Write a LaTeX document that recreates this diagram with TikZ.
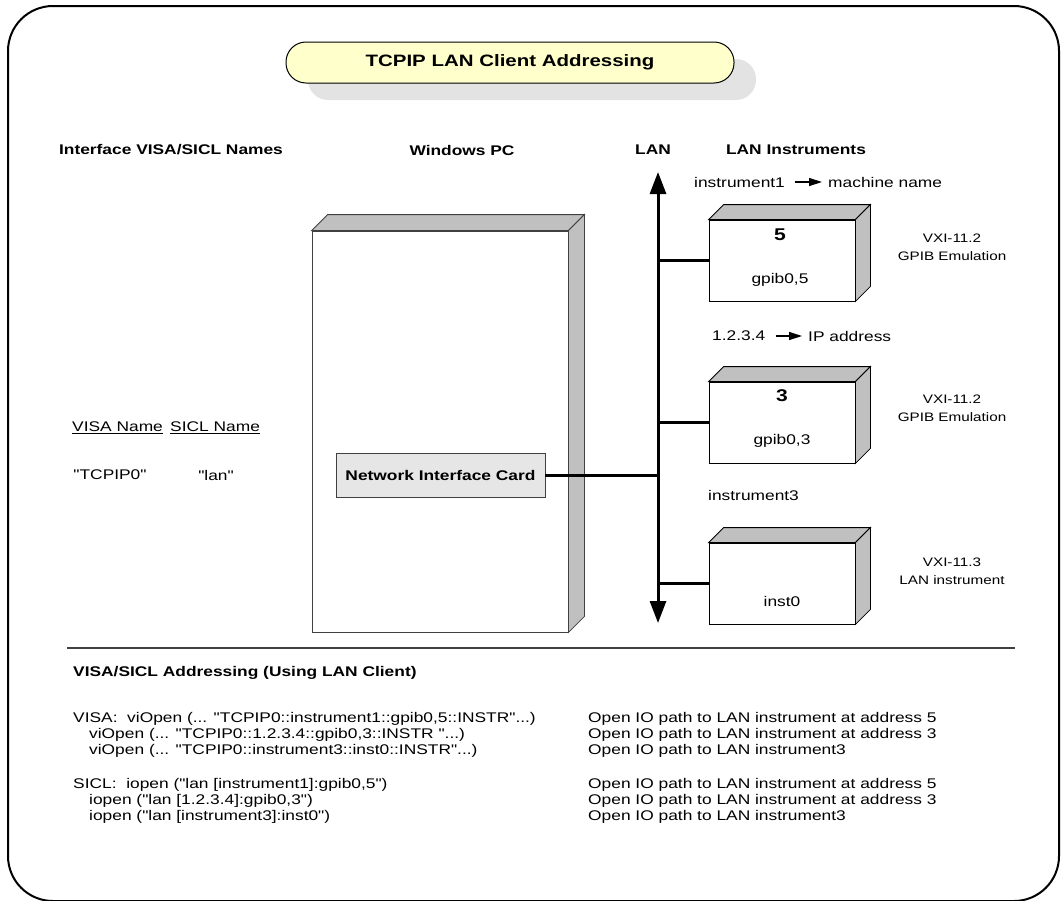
\documentclass[tikz,border=0pt]{standalone}
\usepackage{fontspec}
\setmainfont{Liberation Sans}[FakeStretch=1.24, Ligatures=TeXOff]
\usetikzlibrary{arrows.meta}
\definecolor{titlefill}{HTML}{FFFFCC}
\definecolor{titleshadow}{HTML}{E3E3E3}
\definecolor{face}{HTML}{C0C0C0}
\definecolor{nicfill}{HTML}{E6E6E6}
\definecolor{edge}{HTML}{404040}
\begin{document}
\begin{tikzpicture}[x=1pt,y=-1pt,
  every node/.style={inner sep=0pt, font=\fontsize{14}{16}\selectfont},
  hdr/.style={font=\fontsize{14}{16}\selectfont\bfseries},
  lbl/.style={anchor=west},
  note/.style={font=\fontsize{12.3}{18}\selectfont, align=center},
  frontface/.style={draw=black, line width=0.8pt, fill=white, minimum width=146pt, minimum height=81pt},
  sideface/.style={draw=black, line width=0.8pt, fill=face},
  numtxt/.style={font=\fontsize{17}{18}\selectfont\bfseries},
  wire/.style={line width=3pt},
  ptr/.style={-{Triangle[width=8pt,length=13pt]}, line width=1.3pt},
]
\useasboundingbox (0,0) rectangle (1062,900);
% outer frame
\draw[line width=2pt, rounded corners=45pt] (8,6) rectangle (1059,901);

% title with shadow
\fill[titleshadow, rounded corners=20pt] (308,59) rectangle (756,100);
\node[draw=black, line width=1pt, fill=titlefill, rounded corners=20pt,
      minimum width=448pt, minimum height=41pt,
      font=\fontsize{16.5}{18}\selectfont\bfseries] (title) at (510,62.5) {TCPIP LAN Client Addressing};

% headers
\node[hdr] (hIface) at (171,150) {Interface VISA/SICL Names};
\node[hdr] (hPC) at (462,150) {Windows PC};
\node[hdr] (hLAN) at (653,150) {LAN};
\node[hdr] (hInst) at (796,150) {LAN Instruments};

% PC box
\node[draw=edge, line width=0.8pt, fill=white, minimum width=256pt, minimum height=401pt] (pc) at (440,431.5) {};
\draw[draw=edge, line width=0.8pt, fill=face] (pc.north west) -- ++(16,-16) -- ([shift={(16,-16)}]pc.north east) -- (pc.north east) -- cycle;
\draw[draw=edge, line width=0.8pt, fill=face] (pc.north east) -- ++(16,-16) -- ([shift={(16,-16)}]pc.south east) -- (pc.south east) -- cycle;

% NIC
\node[draw=edge, line width=0.8pt, fill=nicfill, minimum width=209pt, minimum height=44pt,
      font=\fontsize{14}{16}\selectfont\bfseries] (nic) at (440.5,475) {Network Interface Card};

% left names
\node[lbl] (visaName) at (72,428) {\underline{VISA Name}};
\node[lbl] (siclName) at (170,428) {\underline{SICL Name}};
\node (visaRes) at (110,475) {"TCPIP0"};
\node (siclRes) at (216,475) {"lan"};

% LAN backbone
\coordinate (lanTop) at (658,172);
\coordinate (lanBot) at (658,623);
\draw[line width=3pt, {Triangle[width=16pt,length=22pt]}-{Triangle[width=16pt,length=22pt]}] (lanTop) -- (lanBot);
\draw[wire] (nic.east) -- (nic.east -| lanTop);

% instrument 1
\node (i1) [lbl] at (694,182) {instrument1};
\node (mn) [lbl] at (828,182) {machine name};
\draw[ptr] ([xshift=10pt]i1.east) -- ([xshift=-6pt]mn.west);
\node[frontface] (inst1) at (782,260.5) {};
\draw[sideface] (inst1.north west) -- ++(15,-15) -- ([shift={(15,-15)}]inst1.north east) -- (inst1.north east) -- cycle;
\draw[sideface] (inst1.north east) -- ++(15,-15) -- ([shift={(15,-15)}]inst1.south east) -- (inst1.south east) -- cycle;
\node[numtxt] (num1) at (780,235) {5};
\node (addr1) at (780,280) {gpib0,5};
\draw[wire] (inst1.west) -- (inst1.west -| lanTop);
\node[note] (std1) at (952,247) {VXI-11.2\\GPIB Emulation};

% instrument 2
\node (ip) [lbl] at (712,336) {1.2.3.4};
\node (ipa) [lbl] at (808,336) {IP address};
\draw[ptr] ([xshift=10pt]ip.east) -- ([xshift=-6pt]ipa.west);
\node[frontface] (inst2) at (782,422.5) {};
\draw[sideface] (inst2.north west) -- ++(15,-15) -- ([shift={(15,-15)}]inst2.north east) -- (inst2.north east) -- cycle;
\draw[sideface] (inst2.north east) -- ++(15,-15) -- ([shift={(15,-15)}]inst2.south east) -- (inst2.south east) -- cycle;
\node[numtxt] (num2) at (782,396) {3};
\node (addr2) at (782,441) {gpib0,3};
\draw[wire] (inst2.west) -- (inst2.west -| lanTop);
\node[note] (std2) at (952,408) {VXI-11.2\\GPIB Emulation};

% instrument 3
\node (i3) [lbl] at (708,495) {instrument3};
\node[frontface] (inst3) at (782,583.5) {};
\draw[sideface] (inst3.north west) -- ++(15,-15) -- ([shift={(15,-15)}]inst3.north east) -- (inst3.north east) -- cycle;
\draw[sideface] (inst3.north east) -- ++(15,-15) -- ([shift={(15,-15)}]inst3.south east) -- (inst3.south east) -- cycle;
\node (addr3) at (782,601) {inst0};
\draw[wire] (inst3.west) -- (inst3.west -| lanTop);
\node[note] (std3) at (952,571) {VXI-11.3\\LAN instrument};

% separator
\coordinate (sepL) at (67,648);
\coordinate (sepR) at (1015,648);
\draw[line width=1.5pt, draw=edge] (sepL) -- (sepR);

% addressing section
\node[lbl, hdr] (addrHdr) at (73,673) {VISA/SICL Addressing (Using LAN Client)};
\node[lbl] (v1) at (73,719) {VISA:\ \ viOpen (... "TCPIP0::instrument1::gpib0,5::INSTR"...)};
\node[lbl] (v2) at (89,735) {viOpen (... "TCPIP0::1.2.3.4::gpib0,3::INSTR "...)};
\node[lbl] (v3) at (89,751) {viOpen (... "TCPIP0::instrument3::inst0::INSTR"...)};
\node[lbl] (s1) at (73,785) {SICL:\ \ iopen ("lan [instrument1]:gpib0,5")};
\node[lbl] (s2) at (89,801) {iopen ("lan [1.2.3.4]:gpib0,3")};
\node[lbl] (s3) at (89,817) {iopen ("lan [instrument3]:inst0")};
\node[lbl] (o1) at (588,719) {Open IO path to LAN instrument at address 5};
\node[lbl] (o2) at (588,735) {Open IO path to LAN instrument at address 3};
\node[lbl] (o3) at (588,751) {Open IO path to LAN instrument3};
\node[lbl] (o4) at (588,785) {Open IO path to LAN instrument at address 5};
\node[lbl] (o5) at (588,801) {Open IO path to LAN instrument at address 3};
\node[lbl] (o6) at (588,817) {Open IO path to LAN instrument3};
\end{tikzpicture}
\end{document}
